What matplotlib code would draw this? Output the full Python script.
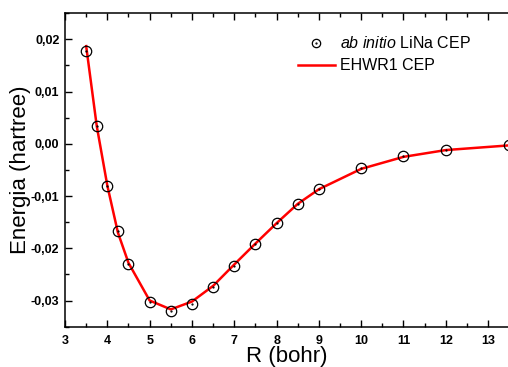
import numpy as np
from matplotlib import pyplot as plt
from matplotlib.ticker import MultipleLocator, FuncFormatter
from matplotlib.lines import Line2D
from matplotlib.legend_handler import HandlerTuple

plt.rcParams['font.family'] = ['Liberation Sans', 'DejaVu Sans']
plt.rcParams['mathtext.fontset'] = 'custom'
plt.rcParams['mathtext.it'] = 'Liberation Sans:italic'
plt.rcParams['mathtext.rm'] = 'Liberation Sans'

# ab initio points
r_ab = [3.5, 3.75, 4.0, 4.25, 4.5, 5.0, 5.5, 6.0, 6.5, 7.0, 7.5, 8.0, 8.5, 9.0, 10.0, 11.0, 12.0, 13.5]
e_ab = [0.0178, 0.0034, -0.0080, -0.0167, -0.0231, -0.0302, -0.0321, -0.0307, -0.0274, -0.0234,
        -0.0191, -0.0151, -0.0116, -0.0086, -0.0046, -0.0023, -0.0011, -0.0003]

# EHWR1 fit
r_fit = [3.5, 3.75, 4.0, 4.25, 4.5, 5.0, 5.5, 6.0, 6.5, 7.0, 7.5, 8.0, 8.5, 9.0, 10.0, 11.0, 12.0, 13.5]
e_fit = [0.0187, 0.0034, -0.0080, -0.0170, -0.0228, -0.0300, -0.0317, -0.0302, -0.0272, -0.0231,
         -0.0191, -0.0152, -0.0115, -0.0087, -0.0048, -0.0025, -0.0012, -0.0003]

fig = plt.figure(figsize=(5.08, 3.67), dpi=100)
ax = fig.add_axes([0.128, 0.110, 0.872, 0.854])

ax.plot(r_fit, e_fit, color='red', lw=1.8, zorder=2)
ax.plot(r_ab, e_ab, 'o', mfc='none', mec='black', mew=0.9, ms=7.5, zorder=3, clip_on=False)
ax.plot(r_ab, e_ab, '.', color='black', ms=1.2, zorder=3, clip_on=False)

ax.set_xlim(3, 13.47)
ax.set_ylim(-0.035, 0.025)

ax.xaxis.set_major_locator(MultipleLocator(1))
ax.xaxis.set_minor_locator(MultipleLocator(0.5))
ax.yaxis.set_major_locator(MultipleLocator(0.01))
ax.yaxis.set_minor_locator(MultipleLocator(0.005))
ax.yaxis.set_major_formatter(FuncFormatter(lambda v, p: ('%.2f' % v).replace('.', ',').replace('-0,00', '0,00')))
ax.xaxis.set_major_formatter(FuncFormatter(lambda v, p: '%d' % round(v)))

ax.tick_params(which='both', direction='in', top=True, right=False, width=1.0)
ax.tick_params(which='major', length=5, labelsize=9)
ax.tick_params(axis='x', which='major', pad=6)
ax.tick_params(axis='y', which='major', pad=4)
ax.tick_params(which='minor', length=3)
for lbl in ax.get_xticklabels() + ax.get_yticklabels():
    lbl.set_fontweight('bold')
ax.spines['right'].set_visible(False)
for s in ['left', 'bottom', 'top']:
    ax.spines[s].set_linewidth(1.1)

ax.set_xlabel('R (bohr)', fontsize=16, labelpad=-1)
ax.set_ylabel('Energia (hartree)', fontsize=16, labelpad=0)

h1 = (Line2D([], [], ls='none', marker='o', mfc='none', mec='black', mew=0.9, ms=6),
      Line2D([], [], ls='none', marker='.', color='black', ms=1.2))
h2 = Line2D([], [], color='red', lw=1.8)
ax.legend([h1, h2], [r'$\it{ab\ initio}$ LiNa CEP', 'EHWR1 CEP'],
          handler_map={tuple: HandlerTuple(ndivide=1)},
          loc='upper left', bbox_to_anchor=(0.497, 0.97), frameon=False, fontsize=11.5,
          handlelength=2.3, handletextpad=0.35, labelspacing=0.42, borderpad=0.3)

plt.savefig('out.png', dpi=100)
